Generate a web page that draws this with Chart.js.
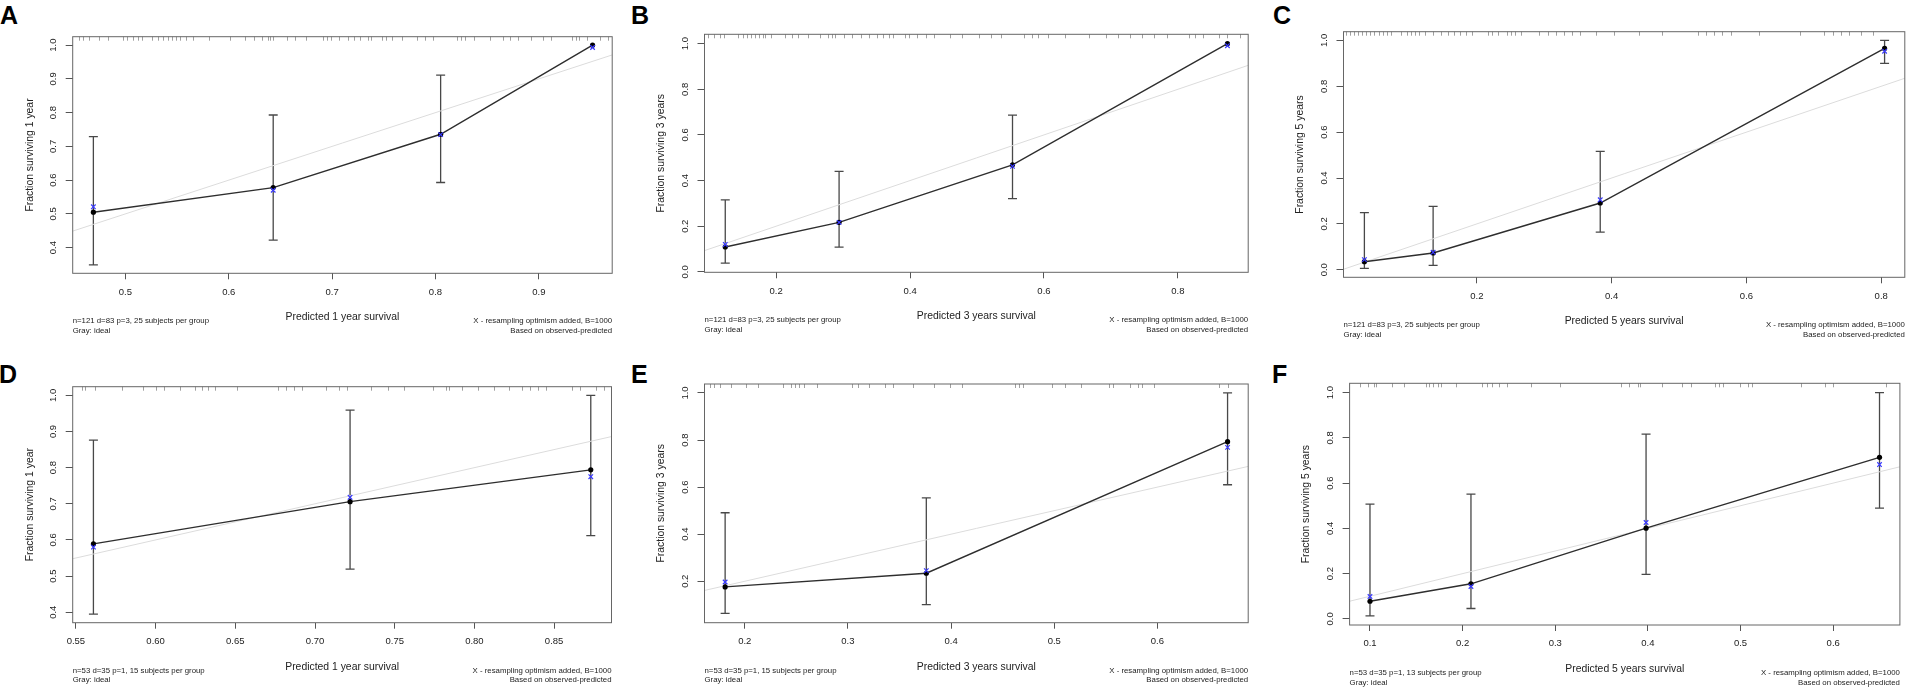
<!DOCTYPE html>
<html>
<head>
<meta charset="utf-8">
<title>Calibration curves</title>
<script src="https://cdn.jsdelivr.net/npm/chart.js@4.4.1/dist/chart.umd.min.js"></script>
<style>
  body { margin:0; background:#fff; width:1910px; height:693px; overflow:hidden; position:relative; font-family:"Liberation Sans", Arial, sans-serif; }
  canvas { position:absolute; }
  .tag { position:absolute; font-weight:bold; font-size:25px; line-height:1; color:#000; }
</style>
</head>
<body>
<div class="tag" style="left:0px;top:3px">A</div>
<div class="tag" style="left:631px;top:3px">B</div>
<div class="tag" style="left:1273px;top:3px">C</div>
<div class="tag" style="left:-1px;top:362px">D</div>
<div class="tag" style="left:631px;top:362px">E</div>
<div class="tag" style="left:1272px;top:362px">F</div>

<canvas id="cA" width="628" height="340" style="left:0px;top:0px"></canvas>
<canvas id="cB" width="615" height="340" style="left:645px;top:0px"></canvas>
<canvas id="cC" width="648" height="340" style="left:1262px;top:0px"></canvas>
<canvas id="cD" width="628" height="353" style="left:0px;top:340px"></canvas>
<canvas id="cE" width="615" height="353" style="left:645px;top:340px"></canvas>
<canvas id="cF" width="648" height="353" style="left:1262px;top:340px"></canvas>

<script>
// ---- A : training set, 1 year
const predA = [0.469, 0.643, 0.805, 0.952];
const obsA  = [0.505, 0.578, 0.736, 1.000];
const corA  = [0.521, 0.570, 0.735, 0.993];
const loA   = [0.349, 0.422, 0.593, null];
const hiA   = [0.729, 0.793, 0.911, null];
const xRangeA = [0.449, 0.971], yRangeA = [0.324, 1.025];
const xTicksA = [0.5, 0.6, 0.7, 0.8, 0.9];
const yTicksA = [0.4, 0.5, 0.6, 0.7, 0.8, 0.9, 1.0];
const rugA = [0.455, 0.459, 0.465, 0.474, 0.483, 0.498, 0.502, 0.507, 0.512, 0.516, 0.526, 0.532, 0.536,
  0.541, 0.545, 0.549, 0.553, 0.559, 0.565, 0.581, 0.601, 0.616, 0.624, 0.632, 0.638, 0.640, 0.643, 0.656,
  0.664, 0.675, 0.691, 0.695, 0.699, 0.707, 0.715, 0.721, 0.727, 0.735, 0.738, 0.748, 0.752, 0.758, 0.768,
  0.782, 0.790, 0.798, 0.821, 0.825, 0.829, 0.837, 0.853, 0.865, 0.872, 0.880, 0.892, 0.904, 0.912, 0.932,
  0.936, 0.939, 0.947, 0.959, 0.967];

// ---- B : training set, 3 years
const predB = [0.124, 0.294, 0.553, 0.874];
const obsB  = [0.109, 0.217, 0.469, 1.000];
const corB  = [0.120, 0.217, 0.462, 0.991];
const loB   = [0.038, 0.108, 0.321, null];
const hiB   = [0.315, 0.440, 0.687, null];
const xRangeB = [0.093, 0.905], yRangeB = [-0.002, 1.041];
const xTicksB = [0.2, 0.4, 0.6, 0.8];
const yTicksB = [0.0, 0.2, 0.4, 0.6, 0.8, 1.0];
const rugB = [0.098, 0.107, 0.116, 0.122, 0.143, 0.150, 0.156, 0.162, 0.168, 0.174, 0.180, 0.183, 0.192,
  0.213, 0.223, 0.232, 0.247, 0.265, 0.277, 0.283, 0.288, 0.302, 0.314, 0.326, 0.338, 0.350, 0.360, 0.369,
  0.375, 0.393, 0.399, 0.411, 0.424, 0.436, 0.460, 0.478, 0.503, 0.521, 0.536, 0.570, 0.582, 0.591, 0.606,
  0.631, 0.667, 0.692, 0.710, 0.728, 0.746, 0.765, 0.783, 0.816, 0.826, 0.838, 0.862, 0.874, 0.893];

// ---- C : training set, 5 years
const predC = [0.033, 0.135, 0.383, 0.805];
const obsC  = [0.035, 0.073, 0.291, 0.965];
const corC  = [0.044, 0.076, 0.305, 0.953];
const loC   = [0.006, 0.019, 0.164, 0.900];
const hiC   = [0.249, 0.276, 0.516, 1.000];
const xRangeC = [0.002, 0.835], yRangeC = [-0.033, 1.038];
const xTicksC = [0.2, 0.4, 0.6, 0.8];
const yTicksC = [0.0, 0.2, 0.4, 0.6, 0.8, 1.0];
const rugC = [0.005, 0.012, 0.018, 0.024, 0.030, 0.036, 0.042, 0.048, 0.054, 0.060, 0.066, 0.072, 0.087,
  0.096, 0.102, 0.108, 0.114, 0.123, 0.135, 0.147, 0.157, 0.166, 0.175, 0.184, 0.193, 0.217, 0.223, 0.232,
  0.244, 0.250, 0.256, 0.265, 0.292, 0.305, 0.317, 0.329, 0.341, 0.353, 0.377, 0.404, 0.441, 0.474, 0.528,
  0.540, 0.552, 0.564, 0.577, 0.619, 0.679, 0.715, 0.728, 0.740, 0.752, 0.770, 0.788];

// ---- D : validation set, 1 year
const predD = [0.561, 0.722, 0.873];
const obsD  = [0.589, 0.706, 0.794];
const corD  = [0.580, 0.718, 0.775];
const loD   = [0.395, 0.519, 0.612];
const hiD   = [0.876, 0.959, 1.000];
const xRangeD = [0.548, 0.886], yRangeD = [0.371, 1.024];
const xTicksD = [0.55, 0.60, 0.65, 0.70, 0.75, 0.80, 0.85];
const yTicksD = [0.4, 0.5, 0.6, 0.7, 0.8, 0.9, 1.0];
const rugD = [0.554, 0.556, 0.562, 0.579, 0.592, 0.600, 0.605, 0.615, 0.625, 0.629, 0.633, 0.637, 0.651,
  0.677, 0.682, 0.687, 0.692, 0.707, 0.715, 0.720, 0.735, 0.746, 0.756, 0.774, 0.782, 0.784, 0.792, 0.802,
  0.812, 0.822, 0.830, 0.835, 0.840, 0.845, 0.861, 0.866, 0.876, 0.881];

// ---- E : validation set, 3 years
const predE = [0.181, 0.376, 0.668];
const obsE  = [0.176, 0.234, 0.793];
const corE  = [0.197, 0.245, 0.769];
const loE   = [0.064, 0.101, 0.610];
const hiE   = [0.491, 0.554, 1.000];
const xRangeE = [0.161, 0.688], yRangeE = [0.024, 1.038];
const xTicksE = [0.2, 0.3, 0.4, 0.5, 0.6];
const yTicksE = [0.2, 0.4, 0.6, 0.8, 1.0];
const rugE = [0.166, 0.170, 0.176, 0.187, 0.201, 0.213, 0.237, 0.245, 0.249, 0.253, 0.257, 0.270, 0.304,
  0.310, 0.320, 0.336, 0.344, 0.363, 0.383, 0.399, 0.411, 0.462, 0.466, 0.470, 0.498, 0.510, 0.526, 0.553,
  0.557, 0.573, 0.581, 0.585, 0.597, 0.660, 0.668];

// ---- F : validation set, 5 years
const predF = [0.100, 0.209, 0.398, 0.650];
const obsF  = [0.078, 0.155, 0.401, 0.714];
const corF  = [0.099, 0.143, 0.426, 0.682];
const loF   = [0.013, 0.046, 0.197, 0.489];
const hiF   = [0.507, 0.551, 0.816, 1.000];
const xRangeF = [0.078, 0.672], yRangeF = [-0.027, 1.041];
const xTicksF = [0.1, 0.2, 0.3, 0.4, 0.5, 0.6];
const yTicksF = [0.0, 0.2, 0.4, 0.6, 0.8, 1.0];
const rugF = [0.089, 0.098, 0.104, 0.107, 0.124, 0.137, 0.160, 0.164, 0.168, 0.173, 0.177, 0.193, 0.221,
  0.226, 0.232, 0.239, 0.248, 0.274, 0.305, 0.371, 0.380, 0.389, 0.391, 0.415, 0.437, 0.446, 0.472, 0.477,
  0.481, 0.499, 0.508, 0.512, 0.565, 0.591, 0.600, 0.657];

const notesTrain = ['n=121 d=83 p=3, 25 subjects per group', 'Gray: ideal',
  'X - resampling optimism added, B=1000', 'Based on observed-predicted'];
const notesValD = ['n=53 d=35 p=1, 15 subjects per group', 'Gray: ideal',
  'X - resampling optimism added, B=1000', 'Based on observed-predicted'];
const notesValF = ['n=53 d=35 p=1, 13 subjects per group', 'Gray: ideal',
  'X - resampling optimism added, B=1000', 'Based on observed-predicted'];

// canvas = [left, top, width, height], box = plot frame [left, top, right, bottom] in page px
const PANELS = [
  {id:'cA', cv:[0,0,628,340],     box:[72.7,36.7,612.2,273.3],  pred:predA, obs:obsA, cor:corA, lo:loA, hi:hiA, xr:xRangeA, yr:yRangeA, xt:xTicksA, yt:yTicksA, xd:1, rug:rugA, notes:notesTrain,
   xlab:'Predicted 1 year survival', ylab:'Fraction surviving 1 year'},
  {id:'cB', cv:[645,0,615,340],   box:[704.5,34.3,1248.2,272.3], pred:predB, obs:obsB, cor:corB, lo:loB, hi:hiB, xr:xRangeB, yr:yRangeB, xt:xTicksB, yt:yTicksB, xd:1, rug:rugB, notes:notesTrain,
   xlab:'Predicted 3 years survival', ylab:'Fraction surviving 3 years'},
  {id:'cC', cv:[1262,0,648,340],  box:[1343.5,31.7,1906,277.3], pred:predC, obs:obsC, cor:corC, lo:loC, hi:hiC, xr:xRangeC, yr:yRangeC, xt:xTicksC, yt:yTicksC, xd:1, rug:rugC, notes:notesTrain,
   xlab:'Predicted 5 years survival', ylab:'Fraction surviving 5 years'},
  {id:'cD', cv:[0,340,628,353],   box:[72.7,386.7,611.5,622.7],  pred:predD, obs:obsD, cor:corD, lo:loD, hi:hiD, xr:xRangeD, yr:yRangeD, xt:xTicksD, yt:yTicksD, xd:2, rug:rugD, notes:notesValD,
   xlab:'Predicted 1 year survival', ylab:'Fraction surviving 1 year'},
  {id:'cE', cv:[645,340,615,353], box:[704.5,384,1248.2,622.7],  pred:predE, obs:obsE, cor:corE, lo:loE, hi:hiE, xr:xRangeE, yr:yRangeE, xt:xTicksE, yt:yTicksE, xd:1, rug:rugE, notes:notesValD,
   xlab:'Predicted 3 years survival', ylab:'Fraction surviving 3 years'},
  {id:'cF', cv:[1262,340,648,353],box:[1349.6,383.3,1899.9,625], pred:predF, obs:obsF, cor:corF, lo:loF, hi:hiF, xr:xRangeF, yr:yRangeF, xt:xTicksF, yt:yTicksF, xd:1, rug:rugF, notes:notesValF,
   xlab:'Predicted 5 years survival', ylab:'Fraction surviving 5 years'}
];

const FONT_FAMILY = '"Liberation Sans", Arial, sans-serif';
Chart.defaults.font.family = FONT_FAMILY;
Chart.defaults.color = '#222';

const TICK_FONT = 9.5, TITLE_FONT = 10.4;

// error bars, rug, frame, rotated y labels and footnotes
const calibPlugin = (p) => ({
  id: 'calib',
  beforeDatasetsDraw(chart) {
    const {ctx, scales: {x, y}} = chart;
    ctx.save();
    ctx.strokeStyle = '#484848';
    ctx.lineWidth = 1.3;
    p.pred.forEach((v, i) => {
      if (p.lo[i] == null) return;
      const px = x.getPixelForValue(v);
      const y1 = y.getPixelForValue(p.lo[i]);
      const y2 = y.getPixelForValue(p.hi[i]);
      ctx.beginPath();
      ctx.moveTo(px, y1); ctx.lineTo(px, y2);
      ctx.moveTo(px - 4.5, y1); ctx.lineTo(px + 4.5, y1);
      ctx.moveTo(px - 4.5, y2); ctx.lineTo(px + 4.5, y2);
      ctx.stroke();
    });
    ctx.restore();
  },
  afterDraw(chart) {
    const {ctx, chartArea: a, scales: {x, y}} = chart;
    ctx.save();
    ctx.strokeStyle = '#a0a0a0';
    ctx.lineWidth = 1;
    ctx.beginPath();
    p.rug.forEach(v => {
      const px = Math.round(x.getPixelForValue(v)) + 0.5;
      ctx.moveTo(px, a.top);
      ctx.lineTo(px, a.top + 4);
    });
    ctx.stroke();

    ctx.strokeStyle = '#666';
    ctx.strokeRect(a.left, a.top, a.right - a.left, a.bottom - a.top);

    // y tick labels, parallel to the axis like R does
    ctx.fillStyle = '#222';
    ctx.font = TICK_FONT + 'px ' + FONT_FAMILY;
    ctx.textAlign = 'center';
    ctx.textBaseline = 'middle';
    y.ticks.forEach(t => {
      ctx.save();
      ctx.translate(a.left - 19.5, y.getPixelForValue(t.value));
      ctx.rotate(-Math.PI / 2);
      ctx.fillText(t.value.toFixed(1), 0, 0);
      ctx.restore();
    });

    ctx.font = '7.8px ' + FONT_FAMILY;
    ctx.textAlign = 'left';
    ctx.fillText(p.notes[0], a.left, a.bottom + 48);
    ctx.fillText(p.notes[1], a.left, a.bottom + 57.5);
    ctx.textAlign = 'right';
    ctx.fillText(p.notes[2], a.right, a.bottom + 48);
    ctx.fillText(p.notes[3], a.right, a.bottom + 57.5);
    ctx.restore();
  }
});

PANELS.forEach(p => {
  const [cl, ct, cw, ch] = p.cv;
  const left = p.box[0] - cl, top = p.box[1] - ct, right = p.box[2] - cl, bottom = p.box[3] - ct;
  const titleLH = TITLE_FONT * 1.2;

  new Chart(document.getElementById(p.id), {
    type: 'scatter',
    data: {
      datasets: [
        { // optimism-corrected estimates
          data: p.pred.map((v, i) => ({x: v, y: p.cor[i]})),
          pointStyle: 'crossRot', pointRadius: 3.2, pointBorderWidth: 1.2,
          borderColor: '#3a3aff', backgroundColor: '#3a3aff', showLine: false
        },
        { // apparent calibration
          data: p.pred.map((v, i) => ({x: v, y: p.obs[i]})),
          showLine: true, borderColor: '#2e2e2e', borderWidth: 1.4,
          pointRadius: 2.6, pointBackgroundColor: '#000', pointBorderColor: '#000', pointBorderWidth: 0
        },
        { // ideal
          data: [{x: p.xr[0], y: p.xr[0]}, {x: p.xr[1], y: p.xr[1]}],
          showLine: true, borderColor: '#dcdcdc', borderWidth: 1, pointRadius: 0
        }
      ]
    },
    options: {
      responsive: false,
      animation: false,
      events: [],
      layout: { padding: { left: 0, top: top, right: cw - right, bottom: 0 } },
      plugins: { legend: { display: false }, tooltip: { enabled: false } },
      scales: {
        x: {
          type: 'linear', min: p.xr[0], max: p.xr[1],
          afterBuildTicks: s => { s.ticks = p.xt.map(v => ({value: v})); },
          afterFit: s => { s.height = ch - bottom; },
          grid: { drawOnChartArea: false, tickLength: 6, color: '#555' },
          border: { display: false },
          ticks: { autoSkip: false, maxRotation: 0, padding: 7, color: '#222',
                   font: { size: TICK_FONT }, callback: v => v.toFixed(p.xd) },
          title: { display: true, text: p.xlab, color: '#222', font: { size: TITLE_FONT },
                   padding: { top: 0, bottom: ch - (bottom + 44) - titleLH / 2 } }
        },
        y: {
          type: 'linear', min: p.yr[0], max: p.yr[1],
          afterBuildTicks: s => { s.ticks = p.yt.map(v => ({value: v})); },
          afterFit: s => { s.width = left; },
          grid: { drawOnChartArea: false, tickLength: 7, color: '#555' },
          border: { display: false },
          ticks: { display: false, autoSkip: false },
          title: { display: true, text: p.ylab, color: '#222', font: { size: TITLE_FONT },
                   padding: { top: left - 43 - titleLH / 2, bottom: 0 } }
        }
      }
    },
    plugins: [calibPlugin(p)]
  });
});
</script>
</body>
</html>
